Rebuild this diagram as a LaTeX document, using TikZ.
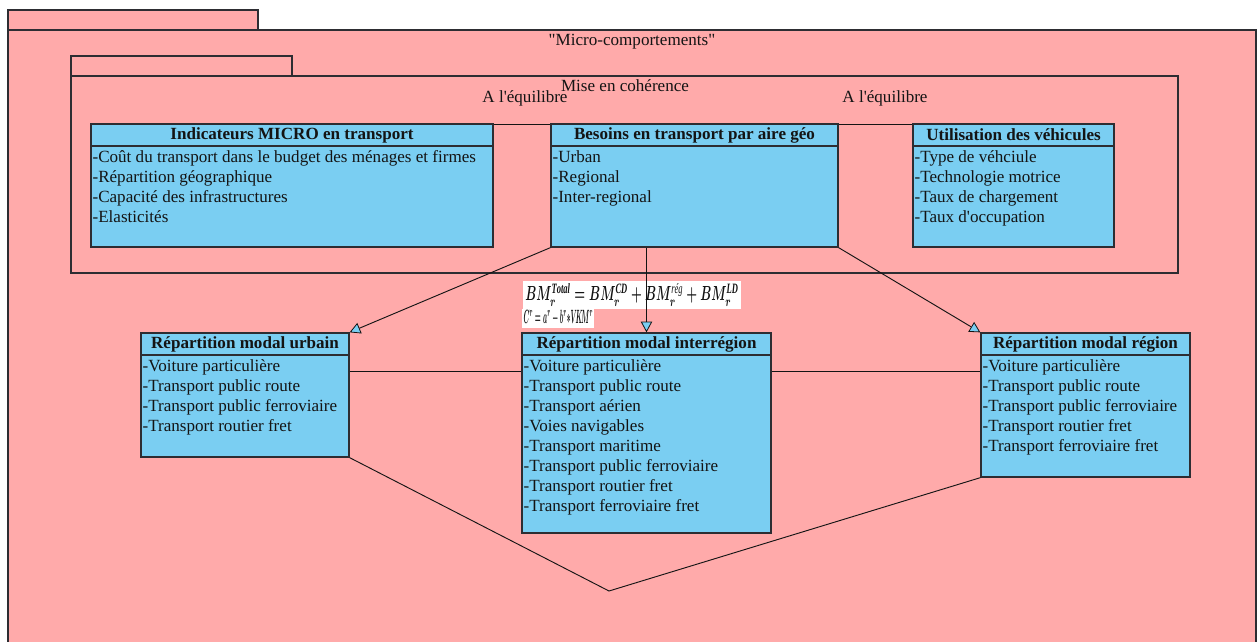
\documentclass[tikz,border=0pt]{standalone}
\usepackage{amsmath}
\usepackage{graphicx}
\usepackage{fontspec}
\setmainfont{Liberation Serif}[Ligatures=TeXOff]
\usetikzlibrary{arrows.meta,fit,calc}

\definecolor{pkgpink}{RGB}{255,170,170}
\definecolor{clsblue}{RGB}{122,206,242}
\definecolor{edge}{RGB}{45,45,50}
\definecolor{ink}{RGB}{20,20,20}

\tikzset{
  pkg/.style={draw=edge, line width=0.8pt, fill=pkgpink, inner sep=0pt},
  pkgtitle/.style={font=\fontsize{12.8}{14}\selectfont, text=ink, inner sep=1pt},
  clsbox/.style={draw=edge, line width=1pt, fill=clsblue, inner sep=0pt},
  sepline/.style={draw=edge, line width=0.8pt},
  clstitle/.style={font=\fontsize{12.8}{14}\selectfont\bfseries, text=ink, inner sep=0pt},
  clsitems/.style={font=\fontsize{12.8}{15}\selectfont, text=ink, align=left, inner sep=1pt},
  assoc/.style={draw=ink, line width=0.7pt},
  gen/.style={draw=ink, line width=0.7pt,
    -{Triangle[length=8pt,width=8.5pt,fill=clsblue,line width=0.6pt]}},
  formula/.style={fill=white, inner sep=1.5pt, text=ink, font=\boldmath},
  eqlabel/.style={font=\fontsize{12.8}{14}\selectfont, text=ink, inner sep=0pt}
}

% UML class: name, x1, y1, x2, y2, title, attribute lines
\newcommand\classbox[7]{%
  \node[clsbox, fit={(#2,#3) (#4,#5)}] (#1) {};
  \draw[sepline] (#2,#3+22) -- (#4,#3+22);
  \node[clstitle] (#1-t) at ({(#2+#4)/2},#3+11) {#6};
  \node[clsitems, anchor=north west] (#1-i) at (#2,#3+25) {#7};
}

\begin{document}
\begin{tikzpicture}[x=0.75pt,y=-0.75pt]
  \useasboundingbox (0,0) rectangle (1257,642);
  \begin{scope}
  \clip (0,0) rectangle (1257,642);

  % outer package "Micro-comportements"
  \node[pkg, fit={(8,10) (258,30)}] (outertab) {};
  \node[pkg, fit={(8,30) (1256,660)}] (outer) {};
  \node[pkgtitle] (outertitle) at (632,42) {"Micro-comportements"};

  % inner package "Mise en cohérence"
  \node[pkg, fit={(71,56) (292,76)}] (innertab) {};
  \node[pkg, fit={(71,76) (1178,273)}] (inner) {};
  \node[pkgtitle] (innertitle) at (625,86) {Mise en cohérence};

  % classes of the upper row
  \classbox{ind}{91}{124}{493}{247}{Indicateurs MICRO en transport}
    {-Coût du transport dans le budget des ménages et firmes\\-Répartition géographique\\-Capacité des infrastructures\\-Elasticités};
  \classbox{bes}{551}{124}{838}{247}{Besoins en transport par aire géo}
    {-Urban\\-Regional\\-Inter-regional};
  \classbox{uti}{913}{124}{1114}{247}{Utilisation des véhicules}
    {-Type de véhciule\\-Technologie motrice\\-Taux de chargement\\-Taux d'occupation};

  % classes of the lower row
  \classbox{urb}{141}{333}{349}{457}{Répartition modal urbain}
    {-Voiture particulière\\-Transport public route\\-Transport public ferroviaire\\-Transport routier fret};
  \classbox{inter}{522}{333}{771}{533}{Répartition modal interrégion}
    {-Voiture particulière\\-Transport public route\\-Transport aérien\\-Voies navigables\\-Transport maritime\\-Transport public ferroviaire\\-Transport routier fret\\-Transport ferroviaire fret};
  \classbox{reg}{981}{333}{1190}{477}{Répartition modal région}
    {-Voiture particulière\\-Transport public route\\-Transport public ferroviaire\\-Transport routier fret\\-Transport ferroviaire fret};

  % associations "A l'équilibre"
  \draw[assoc] ($(ind.north east)+(0,1)$) -- ($(bes.north west)+(0,1)$);
  \draw[assoc] ($(bes.north east)+(0,1)$) -- ($(uti.north west)+(0,1)$);
  \node[eqlabel] (eqL) at (525,98) {A l'équilibre};
  \node[eqlabel] (eqR) at (885,98) {A l'équilibre};

  % links between the modal splits
  \draw[assoc] ($(urb.north east)+(0,39)$) -- ($(inter.north west)+(0,39)$);
  \draw[assoc] ($(inter.north east)+(0,39)$) -- ($(reg.north west)+(0,39)$);
  \coordinate (vbottom) at (609,591);
  \draw[assoc] (urb.south east) -- (vbottom) -- (reg.south west);

  % formulas
  \node[formula, anchor=west] (f1) at (523,295)
    {\resizebox{160pt}{13pt}{$BM_r^{\mathit{Total}}=BM_r^{\mathit{CD}}+BM_r^{\text{\itshape rég}}+BM_r^{\mathit{LD}}$}};
  \node[formula, anchor=west, inner sep=1pt] (f2) at (522,318.5)
    {\resizebox{52pt}{10pt}{$C^r=a^r-b^r{*}V\!K\!M^r$}};

  % generalisations from the needs per area
  \draw[gen] (bes.south west) -- (urb.north east);
  \draw[gen] (inter.north |- bes.south) -- (inter.north);
  \draw[gen] (bes.south east) -- (reg.north west);
  \end{scope}
\end{tikzpicture}
\end{document}
